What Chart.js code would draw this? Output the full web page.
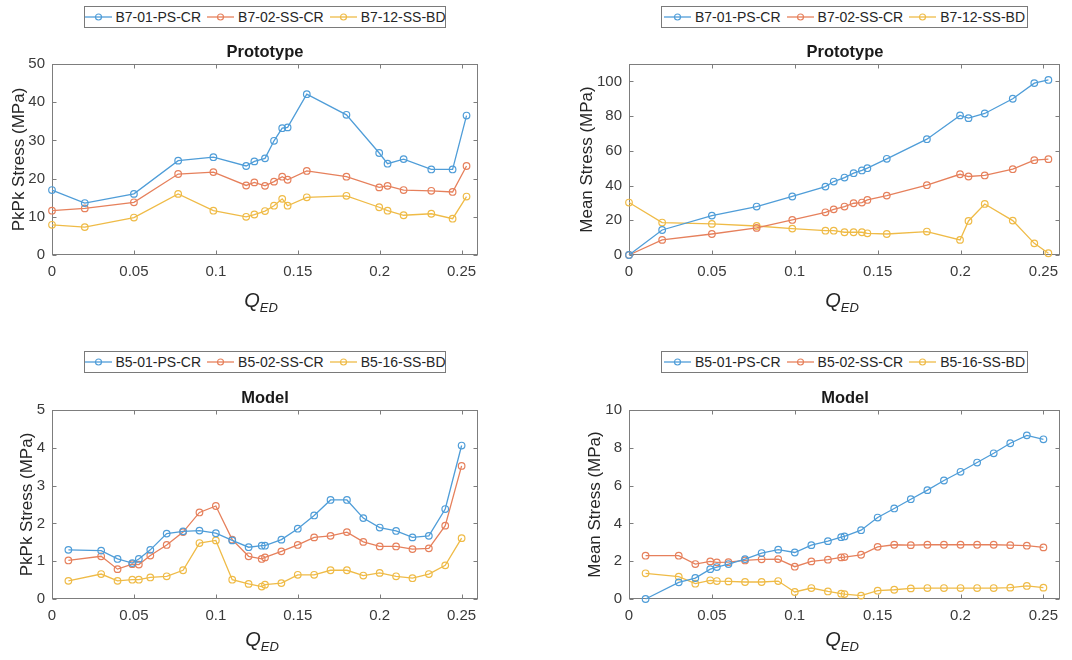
<!DOCTYPE html>
<html>
<head>
<meta charset="utf-8">
<script src="https://cdn.jsdelivr.net/npm/chart.js@4.4.0/dist/chart.umd.min.js"></script>
<style>
  html, body { margin: 0; padding: 0; background: #fff; }
  #wrap { position: relative; width: 1072px; height: 660px; overflow: hidden; background: #fff;
          font-family: "Liberation Sans", Arial, Helvetica, sans-serif; }
  canvas { position: absolute; }
  .legend { position: absolute; height: 22px; box-sizing: border-box; border: 1px solid #7a7a7a;
            display: flex; align-items: center; justify-content: center; background: #fff;
            font-size: 14px; color: #262626; white-space: nowrap; }
  .legend .item { display: flex; align-items: center; margin: 0 3px; }
  .legend svg { margin-right: 4px; }
  .ttl { position: absolute; transform: translateX(-50%); font-weight: bold; font-size: 16.5px;
         line-height: 16.5px; color: #1a1a1a; white-space: nowrap; }
  .qed { position: absolute; transform: translateX(-50%); font-size: 20px; line-height: 20px;
         color: #262626; font-style: italic; white-space: nowrap; }
  .qed sub { font-size: 13px; vertical-align: -5px; line-height: 0; }
</style>
</head>
<body>
<div id="wrap">
  <canvas id="c1" width="536" height="330" style="left:0px;top:0px;"></canvas>
  <canvas id="c2" width="536" height="330" style="left:536px;top:0px;"></canvas>
  <canvas id="c3" width="536" height="330" style="left:0px;top:330px;"></canvas>
  <canvas id="c4" width="536" height="330" style="left:536px;top:330px;"></canvas>

  <div class="legend" id="lg1" style="left:84px;top:6px;width:362px;"></div>
  <div class="legend" id="lg2" style="left:661px;top:6px;width:367px;"></div>
  <div class="legend" id="lg3" style="left:84px;top:351px;width:362px;"></div>
  <div class="legend" id="lg4" style="left:661px;top:351px;width:367px;"></div>

  <div class="ttl" style="left:265px;top:43px;">Prototype</div>
  <div class="ttl" style="left:845px;top:43px;">Prototype</div>
  <div class="ttl" style="left:265px;top:389px;">Model</div>
  <div class="ttl" style="left:845px;top:389px;">Model</div>

  <div class="qed" style="left:261px;top:290px;">Q<sub>ED</sub></div>
  <div class="qed" style="left:842px;top:290px;">Q<sub>ED</sub></div>
  <div class="qed" style="left:262px;top:629px;">Q<sub>ED</sub></div>
  <div class="qed" style="left:842px;top:629px;">Q<sub>ED</sub></div>
</div>

<script>
// ---------------- DATA ----------------
const qProto = [0, 0.02, 0.05, 0.077, 0.0985, 0.1185, 0.1235, 0.13, 0.1355, 0.1405, 0.1438,
                0.1555, 0.1797, 0.1997, 0.2048, 0.2146, 0.2315, 0.2445, 0.253];
const qModel = [0.01, 0.03, 0.04, 0.049, 0.053, 0.06, 0.07, 0.08, 0.09, 0.1, 0.11, 0.12, 0.128,
                0.13, 0.14, 0.15, 0.16, 0.17, 0.18, 0.19, 0.2, 0.21, 0.22, 0.23, 0.24, 0.25];

const protoNames = ['B7-01-PS-CR', 'B7-02-SS-CR', 'B7-12-SS-BD'];
const modelNames = ['B5-01-PS-CR', 'B5-02-SS-CR', 'B5-16-SS-BD'];

// Prototype PkPk stress (MPa)
const proto01Pk = [17.0, 13.6, 16.0, 24.7, 25.6, 23.3, 24.5, 25.3, 29.9, 33.2, 33.4, 42.1, 36.7, 26.7, 23.9, 25.1, 22.4, 22.4, 36.5];
const proto02Pk = [11.6, 12.2, 13.8, 21.2, 21.7, 18.2, 19.0, 18.1, 19.2, 20.5, 19.7, 22.0, 20.5, 17.7, 18.1, 17.0, 16.8, 16.5, 23.3];
const proto12Pk = [7.9, 7.3, 9.8, 16.0, 11.6, 10.0, 10.6, 11.5, 12.9, 14.7, 12.9, 15.1, 15.5, 12.5, 11.6, 10.4, 10.8, 9.5, 15.3];

// Prototype mean stress (MPa)
const proto01Mean = [0, 14.4, 22.7, 27.9, 33.7, 39.4, 42.3, 44.6, 47.1, 48.7, 50.0, 55.4, 66.7, 80.4, 78.8, 81.5, 90.0, 99.0, 100.8];
const proto02Mean = [0, 8.7, 12.1, 15.6, 20.2, 24.6, 26.3, 27.9, 29.8, 30.2, 31.7, 34.2, 40.2, 46.5, 45.2, 45.8, 49.4, 54.6, 55.2];
const proto12Mean = [30.2, 18.7, 17.9, 16.7, 15.2, 14.0, 14.0, 13.1, 13.1, 13.1, 12.5, 12.1, 13.5, 8.7, 19.6, 29.4, 19.8, 6.7, 1.0];

// Model PkPk stress (MPa)
const model01Pk = [1.30, 1.28, 1.06, 0.95, 1.06, 1.30, 1.73, 1.79, 1.81, 1.74, 1.55, 1.37, 1.41, 1.41, 1.57, 1.86, 2.21, 2.62, 2.62, 2.14, 1.89, 1.80, 1.63, 1.67, 2.38, 4.06];
const model02Pk = [1.02, 1.13, 0.79, 0.92, 0.91, 1.15, 1.43, 1.77, 2.29, 2.46, 1.57, 1.13, 1.06, 1.10, 1.26, 1.43, 1.63, 1.67, 1.77, 1.51, 1.39, 1.39, 1.32, 1.34, 1.94, 3.52];
const model16Pk = [0.48, 0.66, 0.48, 0.51, 0.51, 0.57, 0.60, 0.76, 1.48, 1.55, 0.51, 0.40, 0.33, 0.38, 0.42, 0.64, 0.64, 0.76, 0.76, 0.62, 0.69, 0.60, 0.55, 0.66, 0.89, 1.61];

// Model mean stress (MPa)
const model01Mean = [0.0, 0.88, 1.11, 1.58, 1.69, 1.85, 2.11, 2.43, 2.61, 2.46, 2.85, 3.06, 3.27, 3.31, 3.64, 4.31, 4.79, 5.28, 5.76, 6.27, 6.73, 7.22, 7.71, 8.24, 8.66, 8.45];
const model02Mean = [2.29, 2.29, 1.85, 1.99, 1.94, 1.95, 2.04, 2.10, 2.11, 1.71, 1.99, 2.08, 2.20, 2.22, 2.34, 2.76, 2.87, 2.85, 2.87, 2.87, 2.87, 2.87, 2.87, 2.85, 2.82, 2.73];
const model16Mean = [1.36, 1.18, 0.81, 0.99, 0.95, 0.93, 0.90, 0.90, 0.95, 0.37, 0.58, 0.40, 0.28, 0.26, 0.18, 0.44, 0.49, 0.56, 0.58, 0.58, 0.58, 0.58, 0.58, 0.60, 0.69, 0.60];

// Tick labels
const xTicks = [0, 0.05, 0.1, 0.15, 0.2, 0.25];
const yTicksProtoPk = [0, 10, 20, 30, 40, 50];
const yTicksProtoMean = [0, 20, 40, 60, 80, 100];
const yTicksModelPk = [0, 1, 2, 3, 4, 5];
const yTicksModelMean = [0, 2, 4, 6, 8, 10];

// ---------------- STYLE ----------------
const colors = ['#4f9dd8', '#e6805c', '#efbb47'];
const FONT = '"Liberation Sans", Arial, Helvetica, sans-serif';

const boxPlugin = {
  id: 'matlabBox',
  beforeDatasetsDraw(chart) {
    const { ctx, chartArea: a, scales: { x, y } } = chart;
    ctx.save();
    ctx.strokeStyle = '#7d7d7d';
    ctx.lineWidth = 1;
    const L = Math.round(a.left) + 0.5, R = Math.round(a.right) - 0.5;
    const T = Math.round(a.top) + 0.5, B = Math.round(a.bottom) - 0.5;
    ctx.strokeRect(L, T, R - L, B - T);
    ctx.beginPath();
    const tl = 4;
    x.ticks.forEach(t => {
      const px = Math.round(x.getPixelForValue(t.value)) + 0.5;
      ctx.moveTo(px, B); ctx.lineTo(px, B - tl);
      ctx.moveTo(px, T); ctx.lineTo(px, T + tl);
    });
    y.ticks.forEach(t => {
      const py = Math.round(y.getPixelForValue(t.value)) + 0.5;
      ctx.moveTo(L, py); ctx.lineTo(L + tl, py);
      ctx.moveTo(R, py); ctx.lineTo(R - tl, py);
    });
    ctx.stroke();
    ctx.restore();
  }
};

function makeChart(id, p) {
  const datasets = p.series.map((vals, i) => ({
    label: p.names[i],
    data: p.q.map((qv, j) => ({ x: qv, y: vals[j] })),
    borderColor: colors[i],
    backgroundColor: 'rgba(0,0,0,0)',
    pointBackgroundColor: 'rgba(0,0,0,0)',
    pointBorderColor: colors[i],
    borderWidth: 1.3,
    pointRadius: 3.3,
    pointBorderWidth: 1.2,
    pointStyle: 'circle',
    tension: 0,
    clip: false
  }));
  return new Chart(document.getElementById(id), {
    type: 'line',
    data: { datasets },
    plugins: [boxPlugin],
    options: {
      responsive: false,
      animation: false,
      events: [],
      layout: { padding: { left: 0, top: p.top, right: 536 - p.right, bottom: 0 } },
      plugins: { legend: { display: false }, tooltip: { enabled: false }, title: { display: false } },
      scales: {
        x: {
          type: 'linear', min: 0, max: 0.26,
          afterBuildTicks: s => { s.ticks = xTicks.map(v => ({ value: v })); },
          afterFit: s => { s.height = 330 - p.bottom; },
          grid: { display: false, drawTicks: false },
          border: { display: false },
          ticks: { padding: 8, autoSkip: false, maxRotation: 0, color: '#3a3a3a',
                   font: { family: FONT, size: 15 }, callback: v => String(v) }
        },
        y: {
          type: 'linear', min: 0, max: p.yMax,
          afterBuildTicks: s => { s.ticks = p.yTicks.map(v => ({ value: v })); },
          afterFit: s => { s.width = p.left; },
          grid: { display: false, drawTicks: false },
          border: { display: false },
          ticks: { padding: 7, autoSkip: false, color: '#3a3a3a',
                   font: { family: FONT, size: 15 }, callback: v => String(v) },
          title: { display: true, text: p.yLabel, color: '#262626',
                   font: { family: FONT, size: 17 }, padding: { top: p.yTitlePad, bottom: 0 } }
        }
      }
    }
  });
}

function buildLegend(id, names) {
  const el = document.getElementById(id);
  names.forEach((n, i) => {
    const it = document.createElement('span');
    it.className = 'item';
    it.innerHTML =
      '<svg width="27" height="10"><line x1="0" y1="5" x2="27" y2="5" stroke="' + colors[i] +
      '" stroke-width="1.3"/><circle cx="13.5" cy="5" r="3" fill="none" stroke="' + colors[i] +
      '" stroke-width="1.2"/></svg><span>' + n + '</span>';
    el.appendChild(it);
  });
}

makeChart('c1', { q: qProto, series: [proto01Pk, proto02Pk, proto12Pk], names: protoNames,
  yTicks: yTicksProtoPk, yMax: 50, yLabel: 'PkPk Stress (MPa)',
  left: 52, right: 478, top: 64, bottom: 255, yTitlePad: 9 });
makeChart('c2', { q: qProto, series: [proto01Mean, proto02Mean, proto12Mean], names: protoNames,
  yTicks: yTicksProtoMean, yMax: 110, yLabel: 'Mean Stress (MPa)',
  left: 93, right: 524, top: 64, bottom: 255, yTitlePad: 41 });
makeChart('c3', { q: qModel, series: [model01Pk, model02Pk, model16Pk], names: modelNames,
  yTicks: yTicksModelPk, yMax: 5, yLabel: 'PkPk Stress (MPa)',
  left: 52, right: 478, top: 80, bottom: 269, yTitlePad: 17 });
makeChart('c4', { q: qModel, series: [model01Mean, model02Mean, model16Mean], names: modelNames,
  yTicks: yTicksModelMean, yMax: 10, yLabel: 'Mean Stress (MPa)',
  left: 93, right: 524, top: 80, bottom: 269, yTitlePad: 49 });

buildLegend('lg1', protoNames);
buildLegend('lg2', protoNames);
buildLegend('lg3', modelNames);
buildLegend('lg4', modelNames);
</script>
</body>
</html>
